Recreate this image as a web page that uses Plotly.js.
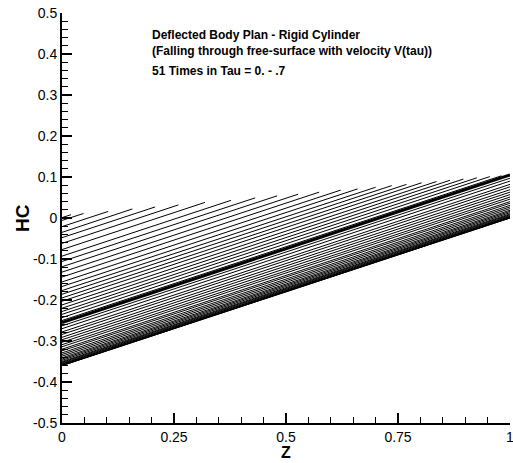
<!DOCTYPE html>
<html>
<head>
<meta charset="utf-8">
<script src="https://cdn.plot.ly/plotly-3.0.1.min.js"></script>
<style>html,body{margin:0;padding:0;background:#fff;}#chart{width:513px;height:463px;}</style>
</head>
<body>
<div id="chart"></div>
<script>
// Z where each time-line ends (upper lines end on the free-surface envelope)
const zEnd = [0.02, 0.048, 0.103, 0.157, 0.208, 0.26, 0.319, 0.377, 0.431, 0.48,
  0.527, 0.574, 0.622, 0.66, 0.70, 0.736, 0.769, 0.803, 0.836, 0.866,
  0.896, 0.926, 0.955, 0.981, 1.0,
  1, 1, 1, 1, 1, 1, 1, 1, 1, 1, 1, 1, 1, 1, 1, 1, 1, 1, 1, 1, 1, 1, 1, 1, 1, 1];
// HC at Z = 0 for each of the 51 times
const hcStart = [0.001, -0.006, -0.021, -0.035, -0.048, -0.062, -0.077, -0.093, -0.106, -0.119,
  -0.132, -0.144, -0.156, -0.167, -0.177, -0.186, -0.195, -0.203, -0.212, -0.220,
  -0.228, -0.235, -0.243, -0.250, -0.255,
  -0.263, -0.270, -0.278, -0.284, -0.291, -0.297, -0.303, -0.309, -0.314, -0.320,
  -0.324, -0.329, -0.333, -0.337, -0.341, -0.344, -0.347, -0.350, -0.352, -0.354,
  -0.356, -0.357, -0.359, -0.359, -0.360, -0.360];
// HC at the end point of each line
const hcEnd = [0.008, 0.011, 0.016, 0.022, 0.027, 0.032, 0.038, 0.043, 0.049, 0.054,
  0.058, 0.063, 0.068, 0.071, 0.075, 0.079, 0.082, 0.086, 0.089, 0.092,
  0.095, 0.098, 0.101, 0.103, 0.105,
  0.097, 0.090, 0.082, 0.076, 0.069, 0.063, 0.057, 0.051, 0.046, 0.040,
  0.036, 0.031, 0.027, 0.023, 0.019, 0.016, 0.013, 0.010, 0.008, 0.006,
  0.004, 0.003, 0.001, 0.001, 0.000, 0.000];
const boldIndex = 24;

const xTickVals = [0, 0.25, 0.5, 0.75, 1];
const xTickText = ["0", "0.25", "0.5", "0.75", "1"];
const yTickVals = [-0.5, -0.4, -0.3, -0.2, -0.1, 0, 0.1, 0.2, 0.3, 0.4, 0.5];
const yTickText = ["-0.5", "-0.4", "-0.3", "-0.2", "-0.1", "0", "0.1", "0.2", "0.3", "0.4", "0.5"];

const titleLines = ["Deflected Body Plan - Rigid Cylinder",
  "(Falling through free-surface with velocity V(tau))"];
const subTitle = "51 Times in Tau = 0. - .7";
const xTitle = "Z";
const yTitle = "HC";

const traces = hcStart.map((h, i) => ({
  type: "scatter", mode: "lines",
  x: [0, zEnd[i]], y: [h, hcEnd[i]],
  line: {color: "#000", width: i === boldIndex ? 3 : 1},
  hoverinfo: "skip", showlegend: false
}));

const font = "Liberation Sans, Arial, sans-serif";
const lastX = xTickVals.length - 1;
const annotations = [
  {xref: "paper", yref: "paper", x: 0.197, y: 0.927, xanchor: "left", yanchor: "middle",
   text: titleLines.map(t => "<b>" + t + "</b>").join("<br>"), align: "left", showarrow: false,
   font: {family: font, size: 12, color: "#000"}},
  {xref: "paper", yref: "paper", x: 0.197, y: 0.8585, xanchor: "left", yanchor: "middle",
   text: "<b>" + subTitle + "</b>", align: "left", showarrow: false,
   font: {family: font, size: 12, color: "#000"}},
  {xref: "x", yref: "paper", x: xTickVals[lastX], y: -0.034, xanchor: "center", yanchor: "middle",
   text: xTickText[lastX], showarrow: false, font: {family: font, size: 14, color: "#000"}},
  {xref: "paper", yref: "paper", x: 0.5, y: -0.072, xanchor: "center", yanchor: "middle",
   text: "<b>" + xTitle + "</b>", showarrow: false, font: {family: font, size: 16, color: "#000"}},
  {xref: "paper", yref: "paper", x: -0.0893, y: 0.5, xanchor: "center", yanchor: "middle",
   textangle: -90, text: "<b>" + yTitle + "</b>", showarrow: false, font: {family: font, size: 19, color: "#000"}}
];

const layout = {
  width: 513, height: 463,
  margin: {l: 62, r: 3, t: 13, b: 40},
  paper_bgcolor: "#fff", plot_bgcolor: "#fff",
  showlegend: false,
  font: {family: font, color: "#000", size: 14},
  xaxis: {
    range: [0, 1], showgrid: false, zeroline: false,
    showline: true, linecolor: "#000", linewidth: 2,
    ticks: "inside", ticklen: 10, tickwidth: 2, tickcolor: "#000",
    tickvals: xTickVals.slice(0, lastX), ticktext: xTickText.slice(0, lastX),
    tickfont: {family: font, size: 14, color: "#000"},
    minor: {tickvals: [0.05,0.1,0.15,0.2,0.3,0.35,0.4,0.45,0.55,0.6,0.65,0.7,0.8,0.85,0.9,0.95], ticks: "inside", ticklen: 6, tickwidth: 1, tickcolor: "#000", showgrid: false}
  },
  yaxis: {
    range: [-0.5, 0.5], showgrid: false, zeroline: false,
    showline: true, linecolor: "#000", linewidth: 2,
    ticks: "inside", ticklen: 10, tickwidth: 2, tickcolor: "#000",
    tickvals: yTickVals, ticktext: yTickText,
    tickfont: {family: font, size: 14, color: "#000"},
    minor: {dtick: 0.02, ticks: "inside", ticklen: 6, tickwidth: 1, tickcolor: "#000", showgrid: false}
  },
  annotations: annotations
};

Plotly.newPlot("chart", traces, layout, {staticPlot: true, displayModeBar: false});
</script>
</body>
</html>
